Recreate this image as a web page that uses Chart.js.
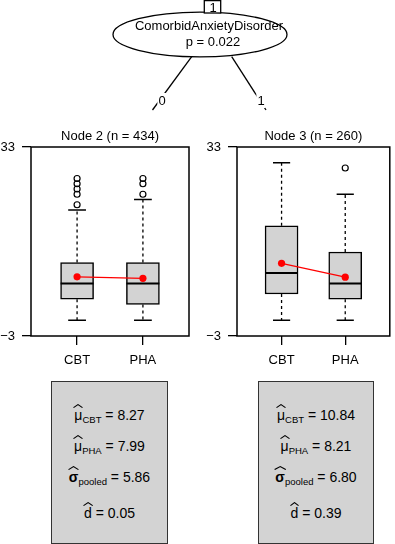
<!DOCTYPE html>
<html><head><meta charset="utf-8">
<script src="https://cdn.jsdelivr.net/npm/chart.js@4/dist/chart.umd.min.js"></script>
<style>
html,body{margin:0;padding:0;background:#fff;width:395px;height:544px;overflow:hidden;font-family:"Liberation Sans",Arial,Helvetica,sans-serif;color:#000;}
#tree{position:absolute;left:0;top:0;}
.tt{position:absolute;font-size:13px;line-height:15px;height:15px;white-space:nowrap;transform:translateX(-50%);will-change:transform;color:#000;}
.lab{background:#fff;padding:0 1px;}
.panel{position:absolute;top:120px;height:250px;}
.stat{position:absolute;top:381px;height:163px;background:#d3d3d3;border:1.5px solid #333;box-sizing:border-box;}
.ln{position:absolute;left:0;right:0;text-align:center;font-size:14px;line-height:16px;height:16px;white-space:nowrap;}
.hat{position:relative;display:inline-block;}
.hat::before{content:"";position:absolute;left:-1px;right:-1px;top:-3px;height:4px;
 background:url("data:image/svg+xml,%3Csvg xmlns='http://www.w3.org/2000/svg' viewBox='0 0 10 4' preserveAspectRatio='none'%3E%3Cpolyline points='0.5,3.6 5,0.6 9.5,3.6' fill='none' stroke='black' stroke-width='1.1' vector-effect='non-scaling-stroke'/%3E%3C/svg%3E") no-repeat;background-size:100% 100%;}
.b{font-weight:bold;}
.sub{font-size:9.5px;vertical-align:-3px;line-height:0;}
</style></head>
<body>
<svg id="tree" width="395" height="120">
 <line x1="191.7" y1="56.7" x2="152.5" y2="110" stroke="#000" stroke-width="1.3"/>
 <line x1="231.7" y1="56.7" x2="266" y2="110" stroke="#000" stroke-width="1.3"/>
 <ellipse cx="200" cy="34.5" rx="87" ry="22.3" fill="#fff" stroke="#000" stroke-width="1.3"/>
 <rect x="204.3" y="0.6" width="16.4" height="12.4" fill="#fff" stroke="#000" stroke-width="1.3"/>
</svg>
<div class="tt" style="left:212.5px;top:-0.5px;">1</div>
<div class="tt" style="left:209px;top:18px;">ComorbidAnxietyDisorder</div>
<div class="tt" style="left:212.5px;top:33.5px;">p = 0.022</div>
<div class="tt lab" style="left:161.7px;top:93px;">0</div>
<div class="tt lab" style="left:260.5px;top:93px;">1</div>
<div class="panel" style="left:0;width:195px;"><canvas id="c2" width="195" height="250"></canvas></div>
<div class="panel" style="left:197px;width:198px;"><canvas id="c3" width="198" height="250"></canvas></div>
<div class="stat" id="s2" style="left:51px;width:117px;"></div>
<div class="stat" id="s3" style="left:258px;width:116px;"></div>
<script>
// ---- data ----
const categories = ['CBT', 'PHA'];
const yTicks = [-3, 33];
const node2Title = 'Node 2 (n = 434)';
const node2Q1 = [4, 3];
const node2Median = [7, 7];
const node2Q3 = [11, 11];
const node2Low = [0, 0];
const node2High = [21, 23];
const node2Mean = [8.27, 7.99];
const node2Outliers = [[22, 24, 25, 26, 27], [24, 26, 27]];
const node3Title = 'Node 3 (n = 260)';
const node3Q1 = [5, 4];
const node3Median = [9, 7];
const node3Q3 = [18, 13];
const node3Low = [0, 0];
const node3High = [30, 24];
const node3Mean = [10.84, 8.21];
const node3Outliers = [[], [29]];
const pooledSD = [5.86, 6.80];
const effectD = [0.05, 0.39];

Chart.defaults.font.family = '"Liberation Sans", Arial, Helvetica, sans-serif';
Chart.defaults.font.size = 13;
Chart.defaults.color = '#000';

const frame = {
  id: 'frame',
  afterDatasetsDraw(chart) {
    const { ctx, chartArea: a } = chart;
    ctx.save();
    ctx.lineWidth = 1.5;
    ctx.strokeStyle = '#000';
    ctx.strokeRect(a.left, a.top, a.right - a.left, a.bottom - a.top);
    ctx.restore();
  }
};

const BOX_HALF = 0.25, CAP_HALF = 0.135;
function segs(halfW, vals) {
  const out = [];
  vals.forEach((v, i) => {
    out.push({ x: i + 1 - halfW, y: v }, { x: i + 1 + halfW, y: v }, { x: i + 1.5, y: null });
  });
  return out;
}

function makePanel(id, title, q1, med, q3, lo, hi, mean, outs, axisW, padR) {
  const whiskers = [];
  categories.forEach((c, i) => {
    whiskers.push({ x: i + 1, y: q3[i] }, { x: i + 1, y: hi[i] }, { x: i + 1, y: null });
    whiskers.push({ x: i + 1, y: q1[i] }, { x: i + 1, y: lo[i] }, { x: i + 1, y: null });
  });
  const outlierPts = [];
  outs.forEach((arr, i) => arr.forEach(v => outlierPts.push({ x: i + 1, y: v })));
  new Chart(document.getElementById(id), {
    type: 'bar',
    data: {
      datasets: [
        { type: 'line', order: 0, data: categories.map((c, i) => ({ x: i + 1, y: mean[i] })),
          borderColor: '#ff0000', borderWidth: 1.3, pointRadius: 3.6, pointBackgroundColor: '#ff0000',
          pointBorderColor: '#ff0000', pointBorderWidth: 0 },
        { type: 'line', order: 1, data: outlierPts, showLine: false, pointRadius: 3,
          pointBorderColor: '#000', pointBackgroundColor: 'rgba(0,0,0,0)', pointBorderWidth: 1.2 },
        { type: 'line', order: 2, data: segs(BOX_HALF, med), borderColor: '#000', borderWidth: 2.2,
          pointRadius: 0, spanGaps: false },
        { type: 'line', order: 3, data: segs(CAP_HALF, hi).concat(segs(CAP_HALF, lo)), borderColor: '#000',
          borderWidth: 1.4, pointRadius: 0, spanGaps: false },
        { type: 'line', order: 4, data: whiskers, borderColor: '#000', borderWidth: 1.3,
          borderDash: [3, 3], pointRadius: 0, spanGaps: false },
        { type: 'bar', order: 5, data: categories.map((c, i) => ({ x: i + 1, y: [q1[i], q3[i]] })),
          backgroundColor: '#d3d3d3', borderColor: '#000', borderWidth: 1.5, borderSkipped: false,
          barThickness: 33 }
      ]
    },
    options: {
      responsive: false, animation: false, events: [],
      layout: { padding: { left: 0, right: padR, top: 0, bottom: 0 } },
      plugins: {
        legend: { display: false }, tooltip: { enabled: false },
        title: { display: true, text: title, fullSize: false, font: { size: 13, weight: 'normal' },
          color: '#000', padding: { top: 8.7, bottom: 2.7 } }
      },
      scales: {
        x: { type: 'linear', min: 0.3, max: 2.7, offset: false,
          grid: { display: true, drawOnChartArea: false, drawTicks: true, tickLength: 9, color: '#000', lineWidth: 1.3, offset: false },
          border: { display: false },
          afterBuildTicks: ax => { ax.ticks = categories.map((c, i) => ({ value: i + 1 })); },
          afterFit: s => { s.height = 34; },
          ticks: { autoSkip: false, maxRotation: 0, padding: 8, callback: v => categories[v - 1] } },
        y: { type: 'linear', min: yTicks[0], max: yTicks[yTicks.length - 1],
          grid: { display: true, drawOnChartArea: false, drawTicks: true, tickLength: 9, color: '#000', lineWidth: 1.3 },
          border: { display: false },
          afterBuildTicks: ax => { ax.ticks = yTicks.map(v => ({ value: v })); },
          afterFit: s => { s.width = axisW; },
          ticks: { autoSkip: false, padding: 7, callback: v => (v < 0 ? '\u2212' + Math.abs(v) : String(v)) } }
      }
    },
    plugins: [frame]
  });
}

makePanel('c2', node2Title, node2Q1, node2Median, node2Q3, node2Low, node2High, node2Mean, node2Outliers, 31, 6);
makePanel('c3', node3Title, node3Q1, node3Median, node3Q3, node3Low, node3High, node3Mean, node3Outliers, 40, 1.7);

function statBox(id, mean, sd, d) {
  const tops = [26, 57.5, 88.8, 124];
  const rows = [
    '<span class="hat">\u03bc</span><span class="sub">' + categories[0] + '</span> = ' + mean[0].toFixed(2),
    '<span class="hat">\u03bc</span><span class="sub">' + categories[1] + '</span> = ' + mean[1].toFixed(2),
    '<span class="hat b">\u03c3</span><span class="sub">pooled</span> = ' + sd.toFixed(2),
    '<span class="hat">d</span> = ' + d.toFixed(2)
  ];
  document.getElementById(id).innerHTML = rows.map((r, k) =>
    '<div class="ln" style="top:' + (tops[k] - 1.5) + 'px">' + r + '</div>').join('');
}
statBox('s2', node2Mean, pooledSD[0], effectD[0]);
statBox('s3', node3Mean, pooledSD[1], effectD[1]);
</script>
</body></html>
